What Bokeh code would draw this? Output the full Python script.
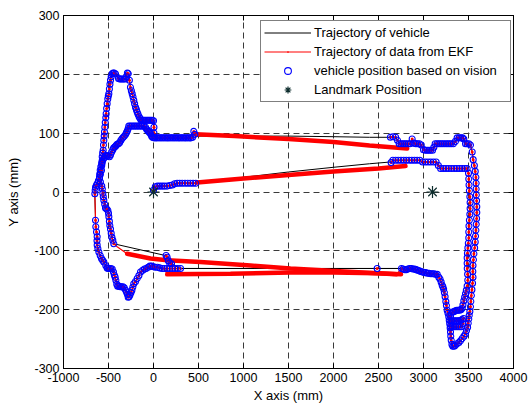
from bokeh.plotting import figure
from bokeh.models import Legend, LegendItem, LinearAxis, FixedTicker, Range1d
from bokeh.embed import file_html
from bokeh.resources import INLINE

# ---------------- axes ----------------
x_ticks = [-1000, -500, 0, 500, 1000, 1500, 2000, 2500, 3000, 3500, 4000]
x_tick_labels = ["-1000", "-500", "0", "500", "1000", "1500", "2000", "2500", "3000", "3500", "4000"]
y_ticks = [-300, -200, -100, 0, 100, 200, 300]
y_tick_labels = ["-300", "-200", "-100", "0", "100", "200", "300"]

landmark_x = [0, 3100]
landmark_y = [0, 0]

# ---------------- vision pieces (mm) ----------------
v_start = [(0, 3), (20, 9), (45, 10), (70, 10), (95, 10), (120, 10), (150, 10), (180, 11), (210, 12),
           (235, 14), (263, 15), (290, 15), (320, 15), (350, 15), (380, 15), (410, 15), (440, 15), (470, 15)]

ekf_mid = [(485, 16), (1000, 23), (1500, 29), (2000, 35), (2500, 40), (2800, 44)]
true_mid = [(485, 15), (1000, 25), (1500, 34), (2000, 42), (2400, 48), (2633, 51)]

e_low_pre = [(2640, 50), (2660, 54), (2690, 54), (2720, 54), (2750, 54), (2780, 54)]
v_rlow = [(2810, 54), (2840, 54), (2870, 54), (2900, 54), (2930, 54), (2960, 54), (2990, 51), (3020, 51),
          (3050, 51), (3080, 51), (3110, 51), (3140, 51), (3165, 45), (3190, 40), (3220, 40), (3250, 40),
          (3280, 40), (3310, 40), (3340, 40), (3370, 40), (3400, 40), (3430, 40), (3460, 40), (3485, 40),
          (3500, 32)]
v_rin = [(3503, 22), (3506, 12), (3510, 2), (3515, -8), (3518, -18), (3518, -28), (3515, -38), (3510, -48),
         (3505, -58), (3503, -68), (3503, -78), (3498, -87), (3493, -95), (3488, -104), (3485, -112),
         (3485, -121), (3486, -130), (3490, -140), (3492, -150), (3485, -160), (3476, -167), (3467, -173),
         (3457, -179), (3448, -185), (3438, -192), (3430, -198)]
v_rin_bottom = [(3415, -200), (3400, -201), (3385, -201), (3370, -201), (3355, -202), (3340, -203),
                (3325, -204), (3310, -206), (3300, -212), (3305, -219), (3322, -219), (3340, -219),
                (3358, -219), (3376, -219), (3394, -219), (3412, -218), (3430, -217), (3445, -215),
                (3440, -224), (3420, -229), (3400, -229), (3380, -229), (3360, -229), (3340, -229),
                (3320, -229), (3300, -228)]
v_u_left_up = [(3281, -212), (3272, -206), (3263, -201), (3255, -193), (3248, -186), (3240, -178),
               (3232, -171), (3224, -165), (3215, -161), (3207, -158), (3196, -153), (3184, -148), (3170, -145)]
v_lowrow_w = [(3152, -140), (3134, -140), (3116, -139), (3098, -139), (3080, -139), (3062, -138),
              (3044, -138), (3026, -137), (3008, -137), (2990, -136), (2972, -135), (2954, -134),
              (2936, -133), (2918, -132), (2900, -131), (2882, -131), (2864, -130), (2846, -130),
              (2828, -131), (2810, -132), (2792, -132), (2774, -131), (2756, -130)]

ekf_low_a = [(2700, -140), (2485, -138), (1967, -134), (1522, -130), (1078, -125), (522, -119),
             (152, -116), (-33, -113), (-293, -105), (-404, -93)]
true_low_a = [(2756, -130), (300, -130), (200, -122), (152, -111), (133, -108)]

v_inner_left = [(-441, -88), (-452, -82), (-462, -77), (-470, -70), (-478, -63), (-485, -57), (-490, -50),
                (-496, -42), (-500, -36), (-507, -31), (-520, -29), (-533, -27), (-542, -21), (-552, -14),
                (-558, -8), (-563, -2), (-568, 5), (-575, 10), (-590, 17), (-600, 23), (-598, 30),
                (-592, 37), (-585, 43), (-576, 48), (-570, 50), (-560, 55), (-548, 58), (-535, 61),
                (-520, 62), (-505, 61), (-490, 60), (-478, 63), (-465, 68), (-452, 72), (-441, 75),
                (-428, 77), (-415, 79), (-404, 81), (-390, 82), (-376, 84), (-362, 88), (-348, 91),
                (-335, 93), (-322, 95), (-310, 98), (-300, 101), (-290, 104), (-281, 108), (-274, 112),
                (-255, 112), (-237, 112), (-218, 112), (-200, 112), (-181, 112), (-163, 112), (-144, 112),
                (-126, 112), (-107, 112), (-89, 110), (-78, 107), (-67, 105), (-55, 103), (-44, 101),
                (-33, 99), (-22, 95), (-11, 93), (4, 92), (20, 92), (38, 92), (56, 92), (74, 92), (92, 92),
                (110, 92), (128, 92), (146, 92), (164, 92), (182, 92), (200, 92), (218, 92), (236, 92),
                (254, 92), (272, 92), (290, 92), (308, 92), (326, 92), (344, 92), (362, 92), (380, 92),
                (398, 92), (416, 92), (434, 93), (448, 103), (460, 98)]

ekf_up = [(467, 98), (900, 95), (1500, 90), (2000, 85), (2400, 79), (2819, 74)]
true_up = [(467, 95), (1000, 95), (1500, 95), (2000, 94), (2400, 93)]

e_up_pre = [(2633, 93), (2660, 94), (2690, 93), (2711, 88), (2730, 82), (2750, 82), (2770, 82),
            (2790, 82), (2810, 82)]
v_rup = [(2830, 82), (2850, 82), (2874, 90), (2895, 83), (2915, 82), (2935, 82), (2955, 82), (2975, 80),
         (3000, 72), (3020, 71), (3040, 71), (3060, 71), (3080, 71), (3100, 71), (3115, 76), (3130, 82),
         (3150, 82), (3170, 82), (3190, 82), (3210, 82), (3230, 82), (3250, 82), (3270, 82), (3290, 82),
         (3310, 82), (3333, 82), (3355, 86), (3374, 92), (3395, 92), (3415, 92), (3435, 92), (3448, 90),
         (3467, 82), (3485, 82), (3505, 82), (3522, 80), (3541, 68)]
v_rout = [(3552, 55), (3565, 45), (3575, 35), (3582, 25), (3585, 15), (3585, 5), (3587, -5), (3590, -15),
          (3592, -25), (3592, -35), (3590, -45), (3586, -55), (3582, -65), (3578, -75), (3575, -85),
          (3568, -95), (3560, -105), (3555, -115), (3550, -125), (3548, -135), (3550, -145), (3545, -155),
          (3538, -166), (3532, -176), (3526, -186), (3522, -195), (3515, -203), (3508, -210), (3503, -216),
          (3497, -223), (3490, -230), (3478, -236), (3467, -241), (3450, -245), (3430, -249), (3412, -253),
          (3393, -256), (3374, -258), (3355, -261), (3340, -262), (3326, -262), (3316, -259), (3308, -252),
          (3303, -245), (3300, -238), (3296, -231), (3291, -224), (3286, -218)]

ekf_low_b = [(2750, -140), (2485, -138), (2000, -137), (1522, -137), (856, -139), (152, -140)]
true_low_b = [(2756, -130), (300, -130)]

e_low_left_row = [(300, -130), (270, -130), (240, -130), (210, -130), (180, -130), (150, -130)]
e_inner_bump = [(200, -122), (180, -121), (165, -117), (152, -111), (140, -108)]
e_lone = [(2485, -130)]

v_row130 = [(120, -130), (95, -130), (70, -129), (45, -128), (20, -128), (0, -127), (-20, -126),
            (-40, -126), (-60, -128), (-80, -130), (-100, -131), (-120, -133), (-144, -136), (-162, -142),
            (-181, -147), (-200, -152), (-219, -156), (-230, -162), (-240, -167), (-250, -171), (-262, -175),
            (-272, -178), (-281, -179), (-290, -174), (-300, -170), (-311, -167), (-325, -163), (-340, -161),
            (-355, -161), (-370, -161), (-385, -160), (-398, -160), (-408, -157), (-418, -150), (-426, -145),
            (-435, -141), (-445, -136), (-459, -131), (-475, -130), (-490, -130), (-505, -130), (-515, -129),
            (-530, -125), (-552, -119), (-565, -116), (-578, -113), (-592, -108), (-607, -102), (-618, -96),
            (-626, -90), (-628, -83), (-626, -76), (-633, -68), (-641, -59), (-644, -48)]
v_outer_left = [(-652, -3), (-648, 3), (-644, 8), (-635, 11), (-626, 14), (-612, 19), (-600, 25), (-590, 30),
                (-578, 37), (-575, 45), (-572, 52), (-570, 60), (-565, 66), (-559, 71), (-556, 80), (-552, 88),
                (-548, 95), (-545, 102), (-541, 110), (-536, 118), (-530, 126), (-526, 133), (-521, 142),
                (-515, 150), (-508, 158), (-502, 163), (-496, 167), (-490, 175), (-484, 183), (-478, 190),
                (-470, 196), (-459, 201), (-448, 202), (-436, 202), (-422, 201), (-389, 193), (-375, 192),
                (-360, 192), (-345, 192), (-330, 192), (-315, 192), (-300, 196), (-290, 202), (-280, 201),
                (-268, 190), (-256, 178), (-246, 172), (-237, 167), (-228, 162), (-219, 156), (-210, 150),
                (-200, 144), (-190, 140), (-181, 136), (-172, 132), (-160, 128), (-148, 125), (-137, 122),
                (-122, 122), (-107, 122), (-92, 122), (-77, 122), (-62, 122), (-47, 122), (-32, 122),
                (-15, 122), (0, 121), (5, 110), (5, 100), (4, 93)]

# ---------------- assemble ----------------
ekf_route = (v_start + ekf_mid + v_rlow + v_rin + v_rin_bottom + v_u_left_up + v_lowrow_w + ekf_low_a
             + v_inner_left + ekf_up + v_rup + v_rout + v_u_left_up + v_lowrow_w + ekf_low_b
             + v_row130 + v_outer_left)
true_route = (v_start + true_mid + e_low_pre + v_rlow + v_rin + v_rin_bottom + v_u_left_up + v_lowrow_w
              + true_low_a + v_inner_left + true_up + e_up_pre + v_rup + v_rout + v_u_left_up + v_lowrow_w
              + true_low_b + e_low_left_row[1:] + v_row130 + v_outer_left)
vision = (v_start + e_low_pre + v_rlow + v_rin + v_rin_bottom + v_u_left_up + v_lowrow_w + v_inner_left
          + e_up_pre + v_rup + v_rout + e_low_left_row + e_inner_bump + e_lone + v_row130 + v_outer_left)
dr_segments = [ekf_mid, ekf_up, ekf_low_a[:-1], ekf_low_b]


def xs(pts):
    return [q[0] for q in pts]


def ys(pts):
    return [q[1] for q in pts]


FONT = "Liberation Sans"

p = figure(width=531, height=406, x_range=Range1d(-1000, 4000), y_range=Range1d(-300, 300),
           output_backend="svg", toolbar_location=None,
           min_border_left=63, min_border_right=18, min_border_top=15, min_border_bottom=38,
           x_axis_label="X axis (mm)", y_axis_label="Y axis (mm)")
p.background_fill_color = "white"
p.border_fill_color = "white"
p.outline_line_color = "black"
p.outline_line_width = 1

p.xaxis.ticker = FixedTicker(ticks=x_ticks)
p.yaxis.ticker = FixedTicker(ticks=y_ticks)
p.xaxis.major_label_overrides = {t: s for t, s in zip(x_ticks, x_tick_labels)}
p.yaxis.major_label_overrides = {t: s for t, s in zip(y_ticks, y_tick_labels)}
for ax in (p.xaxis[0], p.yaxis[0]):
    ax.major_tick_in = 5
    ax.major_tick_out = 0
    ax.minor_tick_line_color = None
    ax.axis_line_color = "black"
    ax.major_tick_line_color = "black"
    ax.major_label_text_font = FONT
    ax.major_label_text_font_size = "12.5px"
    ax.major_label_text_color = "black"
    ax.axis_label_text_font = FONT
    ax.axis_label_text_font_size = "13px"
    ax.axis_label_text_font_style = "normal"
    ax.axis_label_text_color = "black"
    ax.major_label_standoff = 4
p.xaxis.axis_label_standoff = 3
p.yaxis.axis_label_standoff = 10

for loc, ticks in (("above", x_ticks), ("right", y_ticks)):
    ax = LinearAxis(ticker=FixedTicker(ticks=ticks), major_label_overrides={t: "" for t in ticks},
                    major_tick_in=5, major_tick_out=0, minor_tick_line_color=None,
                    axis_line_color="black", major_label_standoff=0)
    p.add_layout(ax, loc)

for g in (p.xgrid[0], p.ygrid[0]):
    g.ticker = FixedTicker(ticks=x_ticks if g is p.xgrid[0] else y_ticks)
    g.grid_line_color = "#3a3a3a"
    g.grid_line_dash = "6 4"
    g.grid_line_width = 1

r_true = p.line(xs(true_route), ys(true_route), line_color="black", line_width=1)
r_ekf = p.line(xs(ekf_route), ys(ekf_route), line_color="red", line_width=1.2)
for seg in dr_segments:
    p.line(xs(seg), ys(seg), line_color="red", line_width=4.5, line_cap="round")
r_ekf_dots = p.scatter(xs(vision), ys(vision), marker="dot", size=12, fill_color="red", line_color="red",
                       line_width=1)
r_vis = p.scatter(xs(vision), ys(vision), marker="circle", size=6, fill_color=None, line_color="blue",
                  line_width=1.1)
r_land = p.scatter(landmark_x, landmark_y, marker="asterisk", size=12, line_color="#0f2e2e", line_width=1.2)

legend = Legend(items=[
    LegendItem(label="Trajectory of vehicle", renderers=[r_true]),
    LegendItem(label="Trajectory of data from EKF", renderers=[r_ekf, r_ekf_dots]),
    LegendItem(label="vehicle position based on vision", renderers=[r_vis]),
    LegendItem(label="Landmark Position", renderers=[r_land]),
], location=(197, 266), label_text_font=FONT, label_text_font_size="13px", label_text_color="black",
    glyph_width=47, glyph_height=17, label_height=17, label_width=193, spacing=2, padding=3, margin=0,
    label_standoff=3, border_line_color="black", border_line_width=1, background_fill_color="white",
    background_fill_alpha=1)
p.add_layout(legend)

with open("out.html", "w", encoding="utf-8") as f:
    f.write(file_html(p, INLINE))
